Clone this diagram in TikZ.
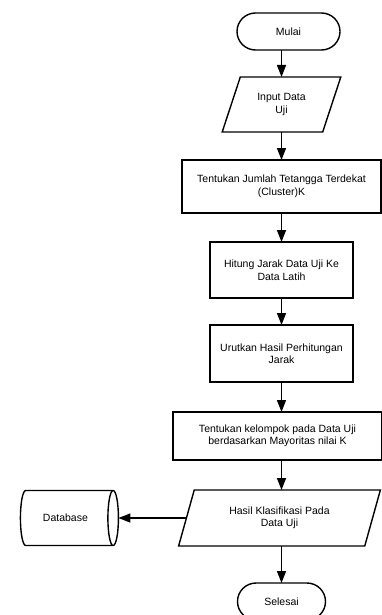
\documentclass[tikz,border=0pt]{standalone}
\usepackage{fontspec}
\setsansfont{Liberation Sans}
\newcommand{\sansall}{\sffamily}
\usepackage{tikz}
\usetikzlibrary{arrows.meta,positioning,shapes.geometric,shapes.misc}
\tikzset{
  blk/.style={draw=black, line width=1.4pt, rectangle, align=center,
              inner sep=2pt, outer sep=0pt,
              font=\sansall\fontsize{10.5}{12.5}\selectfont},
  proc/.style={blk, minimum width=#1, minimum height=55pt},
  term/.style={blk, rounded rectangle, minimum width=#1, minimum height=37pt},
  io/.style={blk, trapezium, trapezium stretches=true,
             trapezium left angle=#1, trapezium right angle=180-#1},
  dbase/.style={blk, cylinder, aspect=0.9, minimum width=55pt,
                minimum height=98pt},
  ar/.style={-{Triangle[length=12pt,width=9pt]}, line width=1.4pt},
}
\begin{document}
\begin{tikzpicture}[x=1pt,y=1pt]
\clip (0,0) rectangle (382,-615);
\node[term=107pt] (mulai) at (288.5,-31.5) {Mulai};
\node[io=66, minimum width=119pt, minimum height=55pt, below=27pt of mulai,
      xshift=-7pt] (input) {Input Data\\Uji};
\node[proc=199pt, minimum height=53pt, below=28pt of input] (jumlahk)
  {Tentukan Jumlah Tetangga Terdekat\\(Cluster)K};
\node[proc=143pt, minimum height=56pt, below=29pt of jumlahk] (jarak)
  {Hitung Jarak Data Uji Ke\\Data Latih};
\node[proc=143pt, minimum height=57pt, below=27pt of jarak] (urut)
  {Urutkan Hasil Perhitungan\\Jarak};
\node[proc=209pt, minimum height=48pt, below=30pt of urut, xshift=-4pt] (kelompok)
  {Tentukan kelompok pada Data Uji\\berdasarkan Mayoritas nilai K};
\node[io=70, minimum width=202pt, minimum height=56pt, below=30pt of kelompok,
      xshift=2pt] (hasil) {Hasil Klasifikasi Pada\\Data Uji};
\node[term=92pt, below=37pt of hasil, xshift=2pt] (selesai) {Selesai};
\node[dbase, left=68pt of hasil] (db) {Database};

\draw[ar] (mulai.south -| input.north) -- (input.north);
\draw[ar] (input.south) -- (input.south |- jumlahk.north);
\draw[ar] (input.south |- jumlahk.south) -- (input.south |- jarak.north);
\draw[ar] (input.south |- jarak.south) -- (input.south |- urut.north);
\draw[ar] (input.south |- urut.south) -- (input.south |- kelompok.north);
\draw[ar] (input.south |- kelompok.south) -- (input.south |- hasil.north);
\draw[ar] (input.south |- hasil.south) -- (input.south |- selesai.north);
\draw[ar] (hasil.west) -- (db.east);
\end{tikzpicture}
\end{document}
